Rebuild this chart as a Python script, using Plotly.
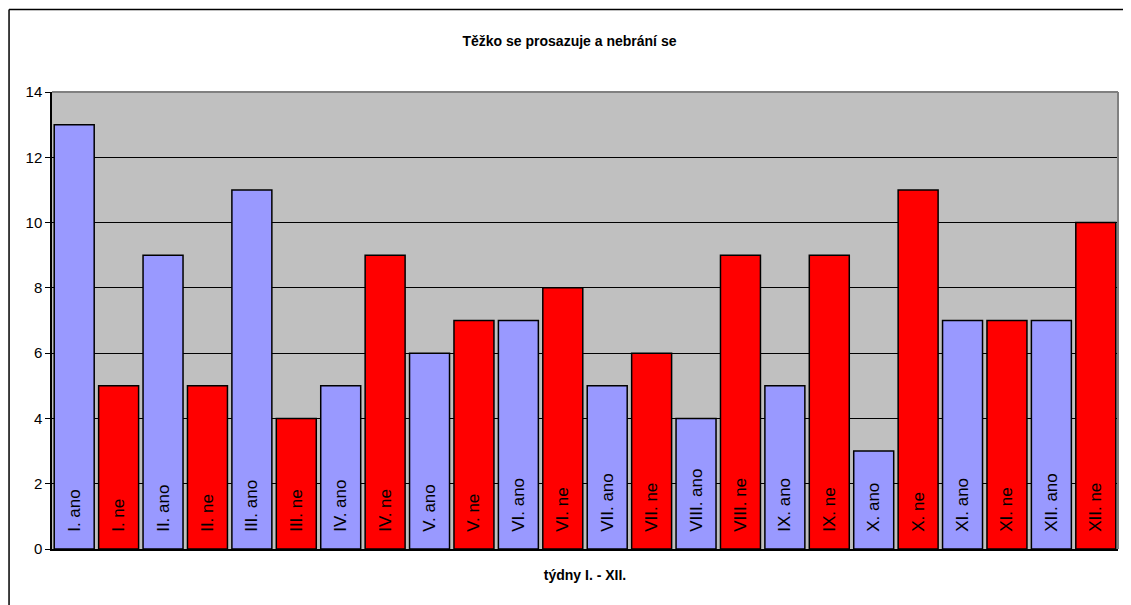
import plotly.graph_objects as go

weeks = ["I.", "II.", "III.", "IV.", "V.", "VI.", "VII.", "VIII.", "IX.", "X.", "XI.", "XII."]
ano_values = [13, 9, 11, 5, 6, 7, 5, 4, 5, 3, 7, 7]
ne_values = [5, 5, 4, 9, 7, 8, 6, 9, 9, 11, 7, 10]

labels = []
values = []
colors = []
for w, a, n in zip(weeks, ano_values, ne_values):
    labels += [f"{w} ano", f"{w} ne"]
    values += [a, n]
    colors += ["#9999FF", "#FF0000"]

fig = go.Figure()
fig.add_trace(go.Bar(
    x=labels, y=values,
    marker=dict(color=colors, line=dict(color="black", width=1.5)),
    text=["   " + l for l in labels],
    textposition="inside", insidetextanchor="start", textangle=-90,
    textfont=dict(family="Arial, Liberation Sans", size=17, color="black"),
    constraintext="none",
    hoverinfo="x+y",
))

fig.update_layout(
    width=1123, height=597,
    margin=dict(l=44, r=13, t=84, b=56),
    paper_bgcolor="white", plot_bgcolor="#C0C0C0",
    bargap=0.1,
    showlegend=False,
    uniformtext=dict(minsize=16, mode="show"),
    title=dict(text="<b>Těžko se prosazuje a nebrání se</b>", x=0.5, xanchor="center",
               y=0.945, yanchor="middle",
               font=dict(family="Arial, Liberation Sans", size=14, color="black")),
    font=dict(family="Arial, Liberation Sans", color="black"),
    xaxis=dict(showticklabels=False, ticks="", showgrid=False, showline=True,
               linecolor="black", linewidth=1.5,
               title=dict(text="<b>týdny I. - XII.</b>", standoff=20,
                          font=dict(size=14, family="Arial, Liberation Sans"))),
    yaxis=dict(range=[0, 14], dtick=2, showgrid=True, gridcolor="black", gridwidth=1,
               showline=True, linecolor="black", linewidth=1.5,
               ticks="outside", ticklen=5, tickcolor="black",
               tickfont=dict(size=15, family="Arial, Liberation Sans"), zeroline=False),
    shapes=[
        dict(type="line", xref="paper", yref="paper", x0=-0.0403, x1=1.0122, y0=1.1805, y1=1.1805,
             line=dict(color="black", width=1.5), layer="below"),
        dict(type="line", xref="paper", yref="paper", x0=-0.0403, x1=-0.0403, y0=-0.1225, y1=1.1805,
             line=dict(color="black", width=1.5), layer="below"),
        dict(type="line", xref="paper", yref="paper", x0=0, x1=1, y0=1, y1=1,
             line=dict(color="#808080", width=2)),
        dict(type="line", xref="paper", yref="paper", x0=1, x1=1, y0=0, y1=1,
             line=dict(color="#808080", width=2)),
    ],
)

fig.write_html("out.html", config={"displayModeBar": False})
